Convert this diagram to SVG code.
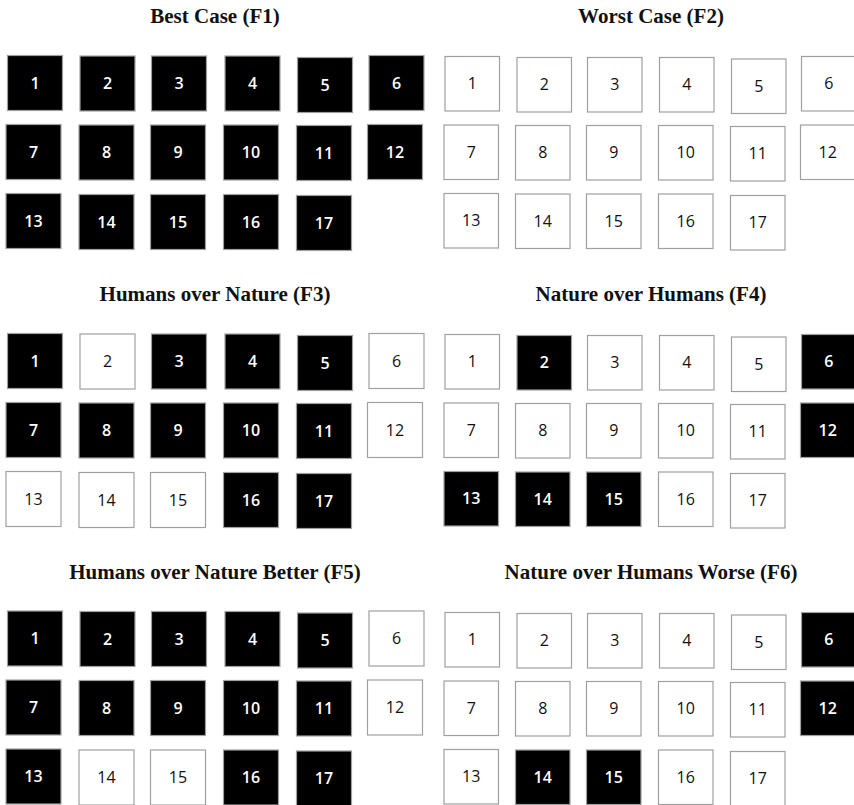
<svg xmlns="http://www.w3.org/2000/svg" width="854" height="805" viewBox="0 0 854 805">
<style>
.title{font-family:"Liberation Serif","Times New Roman",serif;font-weight:bold;font-size:21px;fill:#111;text-anchor:middle}
.b rect{fill:#000;stroke:#a0a0a0;stroke-width:1.2}
.w rect{fill:#fff;stroke:#a0a0a0;stroke-width:1.2}
.n{font-family:"Open Sans","Liberation Sans",sans-serif;font-size:16px;text-anchor:middle}
.b text{fill:#fff;font-weight:600}
.w text{fill:#111}
.L rect{width:55px;height:55px}
.R rect{width:54.5px;height:54.5px}
</style>
<rect width="854" height="805" fill="#fff"/>

<!-- Panel F1 -->
<g id="panel-f1" class="L">
<text class="title" x="215" y="23">Best Case (F1)</text>
<g id="f1-n1" class="b"><rect x="7.5" y="55.5"/><text class="n" x="35" y="88.5">1</text></g>
<g id="f1-n2" class="b"><rect x="80" y="56"/><text class="n" x="107.5" y="89">2</text></g>
<g id="f1-n3" class="b"><rect x="151.5" y="56"/><text class="n" x="179" y="89">3</text></g>
<g id="f1-n4" class="b"><rect x="225" y="56"/><text class="n" x="252.5" y="89">4</text></g>
<g id="f1-n5" class="b"><rect x="297.5" y="57.5"/><text class="n" x="325" y="90.5">5</text></g>
<g id="f1-n6" class="b"><rect x="369" y="55.5"/><text class="n" x="396.5" y="88.5">6</text></g>
<g id="f1-n7" class="b"><rect x="6" y="124.5"/><text class="n" x="33.5" y="157.5">7</text></g>
<g id="f1-n8" class="b"><rect x="79" y="125"/><text class="n" x="106.5" y="158">8</text></g>
<g id="f1-n9" class="b"><rect x="150.5" y="125"/><text class="n" x="178" y="158">9</text></g>
<g id="f1-n10" class="b"><rect x="223.5" y="125"/><text class="n" x="251" y="158">10</text></g>
<g id="f1-n11" class="b"><rect x="296.5" y="125.5"/><text class="n" x="324" y="158.5">11</text></g>
<g id="f1-n12" class="b"><rect x="367.5" y="124.5"/><text class="n" x="395" y="157.5">12</text></g>
<g id="f1-n13" class="b"><rect x="6" y="193.5"/><text class="n" x="33.5" y="226.5">13</text></g>
<g id="f1-n14" class="b"><rect x="79" y="194.5"/><text class="n" x="106.5" y="227.5">14</text></g>
<g id="f1-n15" class="b"><rect x="150.5" y="194.5"/><text class="n" x="178" y="227.5">15</text></g>
<g id="f1-n16" class="b"><rect x="223.5" y="194.5"/><text class="n" x="251" y="227.5">16</text></g>
<g id="f1-n17" class="b"><rect x="296.5" y="195.5"/><text class="n" x="324" y="228.5">17</text></g>
</g>

<!-- Panel F2 -->
<g id="panel-f2" class="R">
<text class="title" x="651" y="23">Worst Case (F2)</text>
<g id="f2-n1" class="w"><rect x="445" y="56.5"/><text class="n" x="472.25" y="89.25">1</text></g>
<g id="f2-n2" class="w"><rect x="517" y="57.5"/><text class="n" x="544.25" y="90.25">2</text></g>
<g id="f2-n3" class="w"><rect x="587.5" y="57.5"/><text class="n" x="614.75" y="90.25">3</text></g>
<g id="f2-n4" class="w"><rect x="659.5" y="57.5"/><text class="n" x="686.75" y="90.25">4</text></g>
<g id="f2-n5" class="w"><rect x="731.5" y="59"/><text class="n" x="758.75" y="91.75">5</text></g>
<g id="f2-n6" class="w"><rect x="801.5" y="56.5"/><text class="n" x="828.75" y="89.25">6</text></g>
<g id="f2-n7" class="w"><rect x="444" y="125"/><text class="n" x="471.25" y="157.75">7</text></g>
<g id="f2-n8" class="w"><rect x="515.5" y="125.5"/><text class="n" x="542.75" y="158.25">8</text></g>
<g id="f2-n9" class="w"><rect x="586.5" y="125.5"/><text class="n" x="613.75" y="158.25">9</text></g>
<g id="f2-n10" class="w"><rect x="658.5" y="125.5"/><text class="n" x="685.75" y="158.25">10</text></g>
<g id="f2-n11" class="w"><rect x="730.5" y="126.5"/><text class="n" x="757.75" y="159.25">11</text></g>
<g id="f2-n12" class="w"><rect x="800.5" y="125"/><text class="n" x="827.75" y="157.75">12</text></g>
<g id="f2-n13" class="w"><rect x="444" y="193.5"/><text class="n" x="471.25" y="226.25">13</text></g>
<g id="f2-n14" class="w"><rect x="515.5" y="194"/><text class="n" x="542.75" y="226.75">14</text></g>
<g id="f2-n15" class="w"><rect x="586.5" y="194"/><text class="n" x="613.75" y="226.75">15</text></g>
<g id="f2-n16" class="w"><rect x="658.5" y="194"/><text class="n" x="685.75" y="226.75">16</text></g>
<g id="f2-n17" class="w"><rect x="730.5" y="195.5"/><text class="n" x="757.75" y="228.25">17</text></g>
</g>

<!-- Panel F3 -->
<g id="panel-f3" class="L" transform="translate(0,278)">
<text class="title" x="215" y="23">Humans over Nature (F3)</text>
<g id="f3-n1" class="b"><rect x="7.5" y="55.5"/><text class="n" x="35" y="88.5">1</text></g>
<g id="f3-n2" class="w"><rect x="80" y="56"/><text class="n" x="107.5" y="89">2</text></g>
<g id="f3-n3" class="b"><rect x="151.5" y="56"/><text class="n" x="179" y="89">3</text></g>
<g id="f3-n4" class="b"><rect x="225" y="56"/><text class="n" x="252.5" y="89">4</text></g>
<g id="f3-n5" class="b"><rect x="297.5" y="57.5"/><text class="n" x="325" y="90.5">5</text></g>
<g id="f3-n6" class="w"><rect x="369" y="55.5"/><text class="n" x="396.5" y="88.5">6</text></g>
<g id="f3-n7" class="b"><rect x="6" y="124.5"/><text class="n" x="33.5" y="157.5">7</text></g>
<g id="f3-n8" class="b"><rect x="79" y="125"/><text class="n" x="106.5" y="158">8</text></g>
<g id="f3-n9" class="b"><rect x="150.5" y="125"/><text class="n" x="178" y="158">9</text></g>
<g id="f3-n10" class="b"><rect x="223.5" y="125"/><text class="n" x="251" y="158">10</text></g>
<g id="f3-n11" class="b"><rect x="296.5" y="125.5"/><text class="n" x="324" y="158.5">11</text></g>
<g id="f3-n12" class="w"><rect x="367.5" y="124.5"/><text class="n" x="395" y="157.5">12</text></g>
<g id="f3-n13" class="w"><rect x="6" y="193.5"/><text class="n" x="33.5" y="226.5">13</text></g>
<g id="f3-n14" class="w"><rect x="79" y="194.5"/><text class="n" x="106.5" y="227.5">14</text></g>
<g id="f3-n15" class="w"><rect x="150.5" y="194.5"/><text class="n" x="178" y="227.5">15</text></g>
<g id="f3-n16" class="b"><rect x="223.5" y="194.5"/><text class="n" x="251" y="227.5">16</text></g>
<g id="f3-n17" class="b"><rect x="296.5" y="195.5"/><text class="n" x="324" y="228.5">17</text></g>
</g>

<!-- Panel F4 -->
<g id="panel-f4" class="R" transform="translate(0,278)">
<text class="title" x="651" y="23">Nature over Humans (F4)</text>
<g id="f4-n1" class="w"><rect x="445" y="56.5"/><text class="n" x="472.25" y="89.25">1</text></g>
<g id="f4-n2" class="b"><rect x="517" y="57.5"/><text class="n" x="544.25" y="90.25">2</text></g>
<g id="f4-n3" class="w"><rect x="587.5" y="57.5"/><text class="n" x="614.75" y="90.25">3</text></g>
<g id="f4-n4" class="w"><rect x="659.5" y="57.5"/><text class="n" x="686.75" y="90.25">4</text></g>
<g id="f4-n5" class="w"><rect x="731.5" y="59"/><text class="n" x="758.75" y="91.75">5</text></g>
<g id="f4-n6" class="b"><rect x="801.5" y="56.5"/><text class="n" x="828.75" y="89.25">6</text></g>
<g id="f4-n7" class="w"><rect x="444" y="125"/><text class="n" x="471.25" y="157.75">7</text></g>
<g id="f4-n8" class="w"><rect x="515.5" y="125.5"/><text class="n" x="542.75" y="158.25">8</text></g>
<g id="f4-n9" class="w"><rect x="586.5" y="125.5"/><text class="n" x="613.75" y="158.25">9</text></g>
<g id="f4-n10" class="w"><rect x="658.5" y="125.5"/><text class="n" x="685.75" y="158.25">10</text></g>
<g id="f4-n11" class="w"><rect x="730.5" y="126.5"/><text class="n" x="757.75" y="159.25">11</text></g>
<g id="f4-n12" class="b"><rect x="800.5" y="125"/><text class="n" x="827.75" y="157.75">12</text></g>
<g id="f4-n13" class="b"><rect x="444" y="193.5"/><text class="n" x="471.25" y="226.25">13</text></g>
<g id="f4-n14" class="b"><rect x="515.5" y="194"/><text class="n" x="542.75" y="226.75">14</text></g>
<g id="f4-n15" class="b"><rect x="586.5" y="194"/><text class="n" x="613.75" y="226.75">15</text></g>
<g id="f4-n16" class="w"><rect x="658.5" y="194"/><text class="n" x="685.75" y="226.75">16</text></g>
<g id="f4-n17" class="w"><rect x="730.5" y="195.5"/><text class="n" x="757.75" y="228.25">17</text></g>
</g>

<!-- Panel F5 -->
<g id="panel-f5" class="L" transform="translate(0,555.5)">
<text class="title" x="215" y="23">Humans over Nature Better (F5)</text>
<g id="f5-n1" class="b"><rect x="7.5" y="55.5"/><text class="n" x="35" y="88.5">1</text></g>
<g id="f5-n2" class="b"><rect x="80" y="56"/><text class="n" x="107.5" y="89">2</text></g>
<g id="f5-n3" class="b"><rect x="151.5" y="56"/><text class="n" x="179" y="89">3</text></g>
<g id="f5-n4" class="b"><rect x="225" y="56"/><text class="n" x="252.5" y="89">4</text></g>
<g id="f5-n5" class="b"><rect x="297.5" y="57.5"/><text class="n" x="325" y="90.5">5</text></g>
<g id="f5-n6" class="w"><rect x="369" y="55.5"/><text class="n" x="396.5" y="88.5">6</text></g>
<g id="f5-n7" class="b"><rect x="6" y="124.5"/><text class="n" x="33.5" y="157.5">7</text></g>
<g id="f5-n8" class="b"><rect x="79" y="125"/><text class="n" x="106.5" y="158">8</text></g>
<g id="f5-n9" class="b"><rect x="150.5" y="125"/><text class="n" x="178" y="158">9</text></g>
<g id="f5-n10" class="b"><rect x="223.5" y="125"/><text class="n" x="251" y="158">10</text></g>
<g id="f5-n11" class="b"><rect x="296.5" y="125.5"/><text class="n" x="324" y="158.5">11</text></g>
<g id="f5-n12" class="w"><rect x="367.5" y="124.5"/><text class="n" x="395" y="157.5">12</text></g>
<g id="f5-n13" class="b"><rect x="6" y="193.5"/><text class="n" x="33.5" y="226.5">13</text></g>
<g id="f5-n14" class="w"><rect x="79" y="194.5"/><text class="n" x="106.5" y="227.5">14</text></g>
<g id="f5-n15" class="w"><rect x="150.5" y="194.5"/><text class="n" x="178" y="227.5">15</text></g>
<g id="f5-n16" class="b"><rect x="223.5" y="194.5"/><text class="n" x="251" y="227.5">16</text></g>
<g id="f5-n17" class="b"><rect x="296.5" y="195.5"/><text class="n" x="324" y="228.5">17</text></g>
</g>

<!-- Panel F6 -->
<g id="panel-f6" class="R" transform="translate(0,556)">
<text class="title" x="651" y="22.5">Nature over Humans Worse (F6)</text>
<g id="f6-n1" class="w"><rect x="445" y="56.5"/><text class="n" x="472.25" y="89.25">1</text></g>
<g id="f6-n2" class="w"><rect x="517" y="57.5"/><text class="n" x="544.25" y="90.25">2</text></g>
<g id="f6-n3" class="w"><rect x="587.5" y="57.5"/><text class="n" x="614.75" y="90.25">3</text></g>
<g id="f6-n4" class="w"><rect x="659.5" y="57.5"/><text class="n" x="686.75" y="90.25">4</text></g>
<g id="f6-n5" class="w"><rect x="731.5" y="59"/><text class="n" x="758.75" y="91.75">5</text></g>
<g id="f6-n6" class="b"><rect x="801.5" y="56.5"/><text class="n" x="828.75" y="89.25">6</text></g>
<g id="f6-n7" class="w"><rect x="444" y="125"/><text class="n" x="471.25" y="157.75">7</text></g>
<g id="f6-n8" class="w"><rect x="515.5" y="125.5"/><text class="n" x="542.75" y="158.25">8</text></g>
<g id="f6-n9" class="w"><rect x="586.5" y="125.5"/><text class="n" x="613.75" y="158.25">9</text></g>
<g id="f6-n10" class="w"><rect x="658.5" y="125.5"/><text class="n" x="685.75" y="158.25">10</text></g>
<g id="f6-n11" class="w"><rect x="730.5" y="126.5"/><text class="n" x="757.75" y="159.25">11</text></g>
<g id="f6-n12" class="b"><rect x="800.5" y="125"/><text class="n" x="827.75" y="157.75">12</text></g>
<g id="f6-n13" class="w"><rect x="444" y="193.5"/><text class="n" x="471.25" y="226.25">13</text></g>
<g id="f6-n14" class="b"><rect x="515.5" y="194"/><text class="n" x="542.75" y="226.75">14</text></g>
<g id="f6-n15" class="b"><rect x="586.5" y="194"/><text class="n" x="613.75" y="226.75">15</text></g>
<g id="f6-n16" class="w"><rect x="658.5" y="194"/><text class="n" x="685.75" y="226.75">16</text></g>
<g id="f6-n17" class="w"><rect x="730.5" y="195.5"/><text class="n" x="757.75" y="228.25">17</text></g>
</g>

<g id="connectors"/>
</svg>
